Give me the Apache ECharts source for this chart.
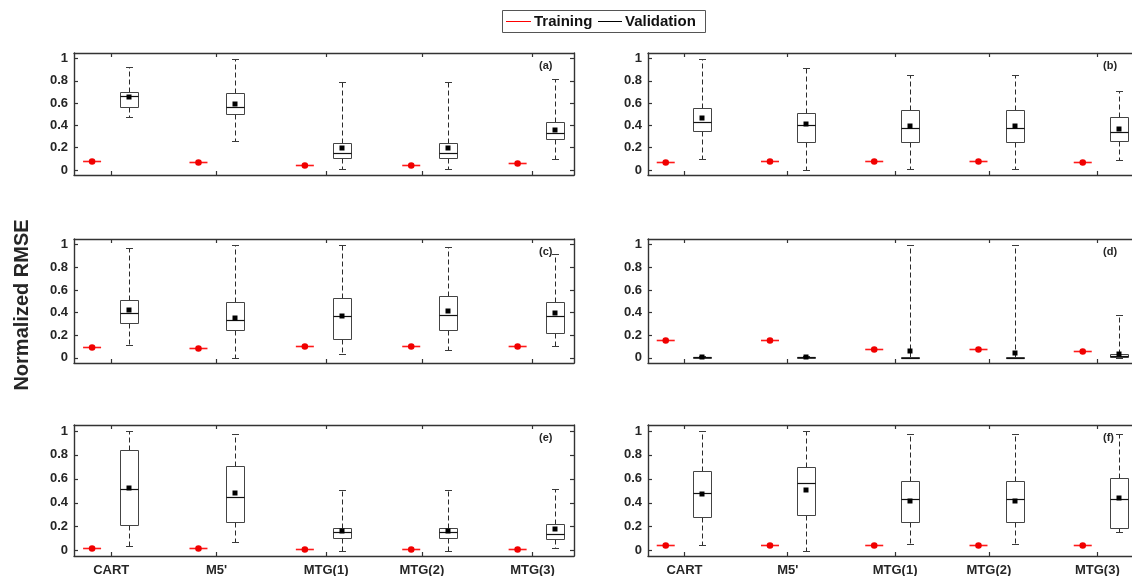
<!DOCTYPE html>
<html>
<head>
<meta charset="utf-8">
<script src="https://cdn.jsdelivr.net/npm/echarts@6/dist/echarts.min.js"></script>
<style>
  html, body { margin: 0; padding: 0; background: #fff; }
  #chart { width: 1132px; height: 576px; }
</style>
</head>
<body>
<div id="chart"></div>
<script>
// ---- data ----
const categories = ['CART', "M5'", 'MTG(1)', 'MTG(2)', 'MTG(3)'];
const panelTags = ['(a)', '(b)', '(c)', '(d)', '(e)', '(f)'];
const yTicks = [0, 0.2, 0.4, 0.6, 0.8, 1];
const yTickLabels = ['0', '0.2', '0.4', '0.6', '0.8', '1'];

// Training normalized RMSE per model
const trainA = [0.080, 0.074, 0.045, 0.045, 0.062];
const trainB = [0.069, 0.078, 0.078, 0.078, 0.069];
const trainC = [0.095, 0.086, 0.104, 0.107, 0.101];
const trainD = [0.160, 0.154, 0.080, 0.080, 0.062];
const trainE = [0.025, 0.022, 0.011, 0.011, 0.014];
const trainF = [0.048, 0.048, 0.048, 0.048, 0.048];

// Validation normalized RMSE: [min, Q1, median, Q3, max]
const valA = [[0.478, 0.564, 0.665, 0.703, 0.920], [0.264, 0.499, 0.564, 0.694, 1.000], [0.006, 0.107, 0.148, 0.243, 0.789], [0.006, 0.107, 0.148, 0.243, 0.789], [0.100, 0.279, 0.329, 0.427, 0.813]];
const valB = [[0.096, 0.349, 0.430, 0.558, 1.000], [0.000, 0.248, 0.406, 0.513, 0.919], [0.009, 0.254, 0.373, 0.537, 0.851], [0.009, 0.254, 0.373, 0.537, 0.851], [0.090, 0.263, 0.340, 0.472, 0.710]];
const valC = [[0.116, 0.306, 0.400, 0.510, 0.970], [0.000, 0.243, 0.335, 0.493, 0.994], [0.036, 0.169, 0.374, 0.528, 1.000], [0.071, 0.249, 0.383, 0.549, 0.982], [0.104, 0.220, 0.368, 0.496, 0.914]];
const valD = [[0.000, 0.002, 0.006, 0.012, 0.018], [0.000, 0.002, 0.005, 0.010, 0.016], [0.000, 0.001, 0.003, 0.008, 1.000], [0.000, 0.001, 0.003, 0.008, 1.000], [0.000, 0.004, 0.015, 0.033, 0.380]];
const valE = [[0.037, 0.213, 0.511, 0.840, 1.000], [0.076, 0.242, 0.444, 0.708, 0.972], [0.000, 0.107, 0.154, 0.185, 0.506], [0.000, 0.107, 0.154, 0.185, 0.506], [0.022, 0.093, 0.138, 0.219, 0.511]];
const valF = [[0.048, 0.284, 0.478, 0.669, 1.000], [0.000, 0.300, 0.565, 0.697, 1.000], [0.053, 0.239, 0.433, 0.579, 0.975], [0.053, 0.239, 0.433, 0.579, 0.975], [0.158, 0.191, 0.430, 0.604, 0.975]];

// Validation mean per model
const meanA = [0.653, 0.590, 0.196, 0.196, 0.362];
const meanB = [0.463, 0.412, 0.391, 0.391, 0.367];
const meanC = [0.424, 0.353, 0.371, 0.412, 0.398];
const meanD = [0.008, 0.007, 0.062, 0.042, 0.036];
const meanE = [0.525, 0.483, 0.163, 0.163, 0.177];
const meanF = [0.472, 0.506, 0.413, 0.413, 0.436];

const trainSets = [trainA, trainB, trainC, trainD, trainE, trainF];
const valSets = [valA, valB, valC, valD, valE, valF];
const meanSets = [meanA, meanB, meanC, meanD, meanE, meanF];

// ---- layout ----
const grids = [
  { left: 74,  top: 53,  width: 500, height: 122 },
  { left: 648, top: 53,  width: 490, height: 122 },
  { left: 74,  top: 239, width: 500, height: 124 },
  { left: 648, top: 239, width: 490, height: 124 },
  { left: 74,  top: 425, width: 500, height: 131 },
  { left: 648, top: 425, width: 490, height: 131 }
];
const X_MIN = -0.17, X_MAX = 4.53;
const Y_MIN = -0.045, Y_MAX = 1.05;
const VAL_OFFSET = 0.347;                          // validation box sits right of training mark
const xTickPos = [0.18, 1.17, 2.2, 3.1, 4.14];     // category tick / label positions
const FONT = '"Liberation Sans", Arial, sans-serif';
const AXIS_COLOR = '#333';
const TEXT_COLOR = '#262626';

function nearestCategory(v) {
  let best = 0;
  xTickPos.forEach((p, i) => { if (Math.abs(p - v) < Math.abs(xTickPos[best] - v)) best = i; });
  return categories[best];
}

const crisp = v => Math.round(v) + 0.5;

// validation box: dashed whiskers, solid caps, box, median, mean square
function renderValidation(params, api) {
  const x = api.value(0);
  const lo = api.coord([x, api.value(1)]);
  const q1 = api.coord([x, api.value(2)]);
  const md = api.coord([x, api.value(3)]);
  const q3 = api.coord([x, api.value(4)]);
  const hi = api.coord([x, api.value(5)]);
  const mn = api.coord([x, api.value(6)]);
  const cx = crisp(lo[0]);
  const hw = 9, cw = 3.5;
  const stroke = { stroke: '#3a3a3a', lineWidth: 1, fill: null };
  const dashed = { stroke: '#2a2a2a', lineWidth: 1, lineDash: [5, 3], fill: null };
  const yLo = crisp(lo[1]), yQ1 = crisp(q1[1]), yMd = crisp(md[1]), yQ3 = crisp(q3[1]), yHi = crisp(hi[1]);
  return {
    type: 'group',
    children: [
      { type: 'line', shape: { x1: cx, y1: yQ3, x2: cx, y2: yHi }, style: dashed },
      { type: 'line', shape: { x1: cx, y1: yQ1, x2: cx, y2: yLo }, style: dashed },
      { type: 'line', shape: { x1: cx - cw, y1: yHi, x2: cx + cw, y2: yHi }, style: stroke },
      { type: 'line', shape: { x1: cx - cw, y1: yLo, x2: cx + cw, y2: yLo }, style: stroke },
      { type: 'rect', shape: { x: cx - hw, y: yQ3, width: hw * 2, height: Math.max(yQ1 - yQ3, 1) }, style: { stroke: '#444', lineWidth: 1, fill: '#fff' } },
      { type: 'line', shape: { x1: cx - hw, y1: yMd, x2: cx + hw, y2: yMd }, style: { stroke: '#111', lineWidth: 1.2 } },
      { type: 'rect', shape: { x: Math.round(mn[0]) - 2.5, y: Math.round(mn[1]) - 2.5, width: 5, height: 5 }, style: { fill: '#000' } }
    ]
  };
}

// training mark: short red bar with a red dot
function renderTraining(params, api) {
  const p = api.coord([api.value(0), api.value(1)]);
  const y = crisp(p[1]);
  return {
    type: 'group',
    children: [
      { type: 'line', shape: { x1: p[0] - 9, y1: y, x2: p[0] + 9, y2: y }, style: { stroke: '#ff1a1a', lineWidth: 1.6 } },
      { type: 'circle', shape: { cx: p[0], cy: y, r: 3.3 }, style: { fill: '#f00000' } }
    ]
  };
}

const option = {
  animation: false,
  backgroundColor: '#fff',
  grid: [],
  xAxis: [],
  yAxis: [],
  series: [],
  graphic: []
};

grids.forEach((g, i) => {
  option.grid.push(Object.assign({ containLabel: false, outerBoundsMode: 'none' }, g));
  const showX = i >= 4;
  const baseX = {
    type: 'value', gridIndex: i, min: X_MIN, max: X_MAX,
    axisLine: { show: true, onZero: false, lineStyle: { color: AXIS_COLOR, width: 1.4 } },
    axisTick: { show: true, inside: true, length: 4, customValues: xTickPos, lineStyle: { color: AXIS_COLOR, width: 1.2 } },
    splitLine: { show: false }
  };
  option.xAxis.push(Object.assign({}, baseX, {
    position: 'bottom',
    axisLabel: {
      show: showX, customValues: xTickPos, formatter: v => nearestCategory(v),
      fontFamily: FONT, fontWeight: 'bold', fontSize: 13, color: TEXT_COLOR, margin: 8
    }
  }));
  option.xAxis.push(Object.assign({}, baseX, { position: 'top', axisLabel: { show: false } }));

  const baseY = {
    type: 'value', gridIndex: i, min: Y_MIN, max: Y_MAX,
    axisLine: { show: true, onZero: false, lineStyle: { color: AXIS_COLOR, width: 1.4 } },
    axisTick: { show: true, inside: true, length: 4, customValues: yTicks, lineStyle: { color: AXIS_COLOR, width: 1.2 } },
    splitLine: { show: false }
  };
  option.yAxis.push(Object.assign({}, baseY, {
    position: 'left',
    axisLabel: {
      customValues: yTicks,
      formatter: v => yTickLabels[yTicks.findIndex(t => Math.abs(t - v) < 1e-6)],
      fontFamily: FONT, fontWeight: 'bold', fontSize: 13, color: TEXT_COLOR, margin: 6
    }
  }));
  option.yAxis.push(Object.assign({}, baseY, { position: 'right', axisLabel: { show: false } }));

  const xIdx = i * 2, yIdx = i * 2;
  option.series.push({
    type: 'custom', xAxisIndex: xIdx, yAxisIndex: yIdx, renderItem: renderTraining,
    data: trainSets[i].map((v, k) => [k, v])
  });
  option.series.push({
    type: 'custom', xAxisIndex: xIdx, yAxisIndex: yIdx, renderItem: renderValidation,
    data: valSets[i].map((s, k) => [k + VAL_OFFSET].concat(s, [meanSets[i][k]]))
  });

  option.graphic.push({
    type: 'text', left: g.left + g.width - 28 - 7, top: g.top + 7,
    style: { text: panelTags[i], fontFamily: FONT, fontWeight: 'bold', fontSize: 11, fill: TEXT_COLOR }
  });
});

// shared y-axis title
option.graphic.push({
  type: 'text', x: 22, y: 305, rotation: Math.PI / 2,
  style: { text: 'Normalized RMSE', fontFamily: FONT, fontWeight: 'bold', fontSize: 20, fill: TEXT_COLOR, align: 'center', verticalAlign: 'middle' }
});

// legend box
option.graphic.push({
  type: 'group', left: 502, top: 10,
  children: [
    { type: 'rect', shape: { x: 0.5, y: 0.5, width: 203, height: 22 }, style: { fill: '#fff', stroke: '#555', lineWidth: 1 } },
    { type: 'line', shape: { x1: 4, y1: 11.5, x2: 29, y2: 11.5 }, style: { stroke: '#ff0000', lineWidth: 1 } },
    { type: 'text', x: 32, y: 12, style: { text: 'Training', fontFamily: FONT, fontWeight: 'bold', fontSize: 15, fill: '#111', verticalAlign: 'middle' } },
    { type: 'line', shape: { x1: 96, y1: 11.5, x2: 120, y2: 11.5 }, style: { stroke: '#000', lineWidth: 1 } },
    { type: 'text', x: 123, y: 12, style: { text: 'Validation', fontFamily: FONT, fontWeight: 'bold', fontSize: 15, fill: '#111', verticalAlign: 'middle' } }
  ]
});

const chart = echarts.init(document.getElementById('chart'), null, { renderer: 'canvas' });
chart.setOption(option);
</script>
</body>
</html>
